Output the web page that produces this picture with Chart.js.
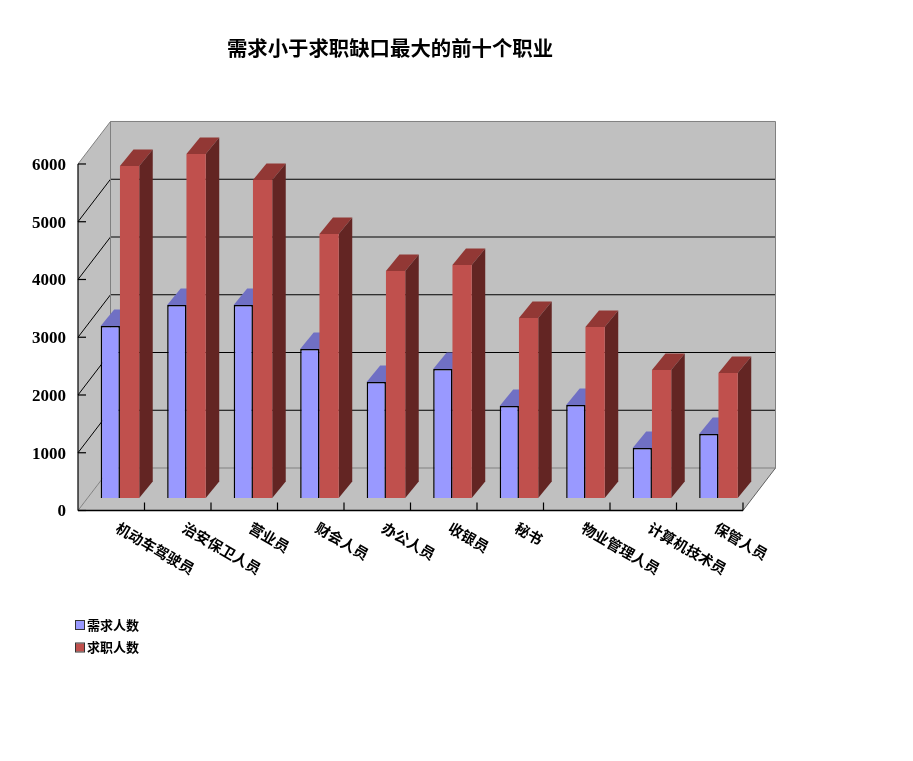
<!DOCTYPE html>
<html lang="zh">

<head>
    <meta charset="UTF-8">
    <title>需求小于求职缺口最大的前十个职业</title>
    <script src="https://cdn.jsdelivr.net/npm/chart.js"></script>
    <style>
        body {
            margin: 0;
            background: #fff;
        }
    </style>
</head>

<body>
    <canvas id="chart" width="780" height="761"></canvas>

    <script>
        const jobs = ["机动车驾驶员", "治安保卫人员", "营业员", "财会人员", "办公人员", "收银员", "秘书", "物业管理人员", "计算机技术员", "保管人员"];
        const demand = [2980, 3340, 3340, 2580, 2010, 2235, 1595, 1610, 865, 1110];
        const seekers = [5750, 5955, 5505, 4570, 3930, 4035, 3115, 2960, 2215, 2165];

        const cjk = '"Noto Sans CJK SC"';

        // 3d look: wall depth and how far the bars sit back from the front plane
        const wallDx = 32.5, wallDy = -42.5;
        const barDx = 8.7, barDy = -12.5;
        const sideDx = 13.5, sideDy = -16.5;

        function line(ctx, x1, y1, x2, y2, color, w) {
            ctx.strokeStyle = color;
            ctx.lineWidth = w;
            ctx.beginPath();
            ctx.moveTo(x1, y1);
            ctx.lineTo(x2, y2);
            ctx.stroke();
        }

        function poly(ctx, pts, color) {
            ctx.fillStyle = color;
            ctx.beginPath();
            pts.forEach((p, i) => i ? ctx.lineTo(p[0], p[1]) : ctx.moveTo(p[0], p[1]));
            ctx.closePath();
            ctx.fill();
        }

        const walls = {
            id: "walls",
            beforeDatasetsDraw(chart) {
                const { ctx, chartArea: a, scales: { y, x } } = chart;
                const L = a.left, R = a.right, T = a.top, B = a.bottom;
                const bl = L + wallDx, br = R + wallDx, bt = T + wallDy, bb = B + wallDy;

                poly(ctx, [[bl, bt], [br, bt], [br, bb], [bl, bb]], "#c0c0c0");
                poly(ctx, [[L, T], [bl, bt], [bl, bb], [L, B]], "#c0c0c0");
                poly(ctx, [[L, B], [bl, bb], [br, bb], [R, B]], "#c0c0c0");

                // gridlines on the left and back walls
                y.ticks.forEach(t => {
                    const py = y.getPixelForValue(t.value);
                    const edge = t.value === y.min || t.value === y.max;
                    const color = edge ? "#808080" : "#000";
                    line(ctx, L, py, bl, py + wallDy, color, 1);
                    line(ctx, bl, py + wallDy, br, py + wallDy, color, edge ? 1 : 1.2);
                    line(ctx, L, py, L + 8, py, "#000", 1.2);
                });
                line(ctx, bl, bt, bl, bb, "#808080", 1);
                line(ctx, br, bt, br, bb, "#808080", 1);
                line(ctx, br, bb, R, B, "#606060", 1);

                // axis lines and the tick marks between categories
                line(ctx, L, T, L, B, "#000", 1.2);
                line(ctx, L, B, R, B, "#000", 1.5);
                const step = (R - L) / jobs.length;
                jobs.forEach((_, i) => {
                    const px = x.getPixelForValue(i) + step / 2;
                    line(ctx, px, B, px, B - 8, "#000", 1.2);
                });

                // bars are pushed back into the box, sides first so the fronts cover them
                ctx.save();
                ctx.translate(barDx, barDy);
                chart.data.datasets.forEach((ds, d) => {
                    chart.getDatasetMeta(d).data.forEach(el => {
                        const l = el.x - el.width / 2, r = el.x + el.width / 2;
                        poly(ctx, [[l, el.y], [l + sideDx, el.y + sideDy], [r + sideDx, el.y + sideDy], [r, el.y]], ds.topColor);
                        poly(ctx, [[r, el.y], [r + sideDx, el.y + sideDy], [r + sideDx, el.base + sideDy], [r, el.base]], ds.sideColor);
                    });
                });
            },
            afterDatasetsDraw(chart) {
                const { ctx, chartArea: a, scales: { x, y } } = chart;
                ctx.restore();

                // y labels sit a little under their tick in the original
                ctx.fillStyle = "#000";
                ctx.font = 'bold 17px "Liberation Serif"';
                ctx.textAlign = "right";
                ctx.textBaseline = "middle";
                y.ticks.forEach(t => {
                    ctx.fillText(String(t.value), a.left - 12, y.getPixelForValue(t.value) + 1.5);
                });

                // x labels run downhill from the tick, which the scale can't do itself
                ctx.font = "bold 14.6px " + cjk;
                ctx.textAlign = "left";
                jobs.forEach((job, i) => {
                    ctx.save();
                    ctx.translate(x.getPixelForValue(i) + 6, a.bottom + 16);
                    ctx.rotate(30 * Math.PI / 180);
                    ctx.fillText(job, 0, 0);
                    ctx.restore();
                });

                // legend
                ctx.font = "bold 13px " + cjk;
                chart.data.datasets.forEach((ds, d) => {
                    const top = 621 + d * 22.5;
                    ctx.fillStyle = ds.backgroundColor;
                    ctx.fillRect(76, top, 8, 8);
                    ctx.strokeStyle = "#333";
                    ctx.lineWidth = 1;
                    ctx.strokeRect(75.5, top - 0.5, 9, 9);
                    ctx.fillStyle = "#000";
                    ctx.fillText(ds.label, 87, top + 4);
                });
            }
        };

        new Chart(document.getElementById("chart"), {
            type: "bar",
            data: {
                labels: jobs,
                datasets: [
                    { label: "需求人数", data: demand, backgroundColor: "#9999ff", borderColor: "#000", borderWidth: 1.5, topColor: "#7070c4", sideColor: "#5a5a99", clip: false },
                    { label: "求职人数", data: seekers, backgroundColor: "#c0504d", borderWidth: 0, topColor: "#923835", sideColor: "#632523", clip: false }
                ]
            },
            options: {
                responsive: false,
                animation: false,
                // left padding equals right padding so the title centres over x=390
                layout: { padding: { left: 37, right: 37, top: 0, bottom: 250.5 } },
                categoryPercentage: 0.58,
                barPercentage: 1,
                plugins: {
                    legend: { display: false },
                    tooltip: { enabled: false },
                    title: {
                        display: true,
                        text: "需求小于求职缺口最大的前十个职业",
                        color: "#000",
                        font: { family: cjk, size: 20.4, weight: "bold" },
                        padding: { top: 36, bottom: 103.5 }
                    }
                },
                scales: {
                    x: {
                        grid: { display: false },
                        border: { display: false },
                        ticks: { display: false },
                        afterFit(scale) { scale.height = 0; }
                    },
                    y: {
                        min: 0,
                        max: 6000,
                        grid: { display: false, drawTicks: false },
                        border: { display: false },
                        ticks: { display: false, stepSize: 1000 },
                        afterFit(scale) { scale.width = 41; }
                    }
                }
            },
            plugins: [walls]
        });
    </script>
</body>

</html>
